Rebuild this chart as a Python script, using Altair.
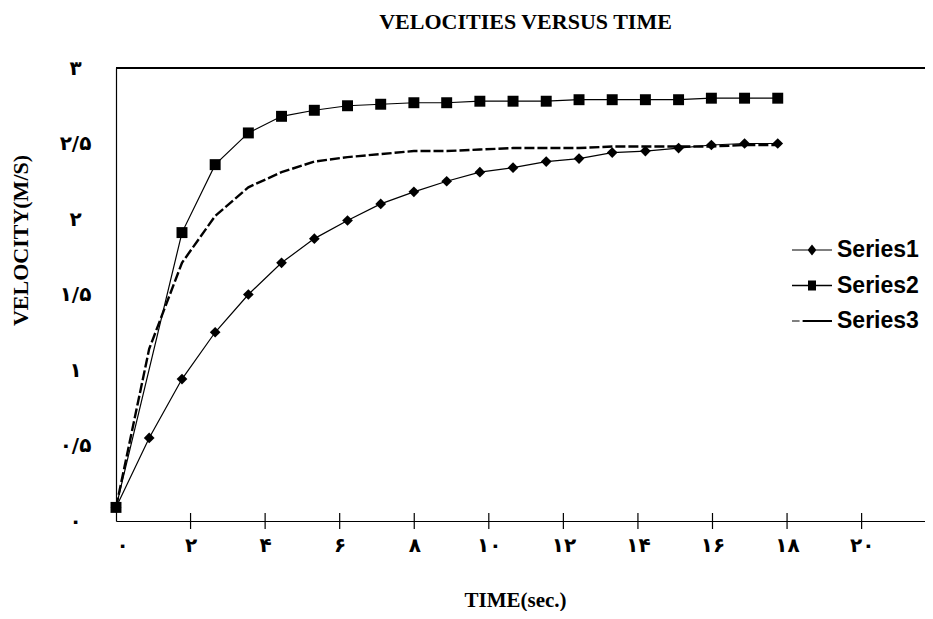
import altair as alt
import pandas as pd

# ---- data ----
time_s = [0.0, 0.89, 1.77, 2.66, 3.55, 4.44, 5.32, 6.21, 7.10, 7.99, 8.87,
          9.76, 10.65, 11.54, 12.42, 13.31, 14.20, 15.09, 15.97, 16.86, 17.75]
series1 = [0.09, 0.55, 0.94, 1.25, 1.50, 1.71, 1.87, 1.99, 2.10, 2.18, 2.25,
           2.31, 2.34, 2.38, 2.40, 2.44, 2.45, 2.47, 2.49, 2.50, 2.50]
series2 = [0.09, None, 1.91, 2.36, 2.57, 2.68, 2.72, 2.75, 2.76, 2.77, 2.77,
           2.78, 2.78, 2.78, 2.79, 2.79, 2.79, 2.79, 2.80, 2.80, 2.80]
series3 = [0.09, 1.14, 1.71, 2.02, 2.21, 2.31, 2.38, 2.41, 2.43, 2.45, 2.45,
           2.46, 2.47, 2.47, 2.47, 2.48, 2.48, 2.48, 2.48, 2.49, 2.49]
series_names = ["Series1", "Series2", "Series3"]

x_ticks = [0, 2, 4, 6, 8, 10, 12, 14, 16, 18, 20]
x_tick_labels = ["۰", "۲", "۴", "۶", "۸", "۱۰", "۱۲", "۱۴", "۱۶", "۱۸", "۲۰"]
y_ticks = [0, 0.5, 1, 1.5, 2, 2.5, 3]
y_tick_labels = ["۰", "۰/۵", "۱", "۱/۵", "۲", "۲/۵", "۳"]

rows = []
for name, vals in zip(series_names, [series1, series2, series3]):
    for t, v in zip(time_s, vals):
        if v is not None:
            rows.append({"t": t, "v": v, "series": name})
df = pd.DataFrame(rows)
tick_df = pd.DataFrame({"t": x_ticks[1:], "v": [0] * (len(x_ticks) - 1)})


def label_expr(values, labels):
    parts = [f"datum.value == {v} ? '{l}'" for v, l in zip(values, labels)]
    return " : ".join(parts) + " : ''"


SERIF = "Liberation Serif"
W, H = 809, 453

x_scale = alt.Scale(domain=[0, 21.7], nice=False, zero=False)
y_scale = alt.Scale(domain=[0, 3], nice=False)

x_axis = alt.Axis(values=x_ticks, labelExpr=label_expr(x_ticks, x_tick_labels),
                  grid=False, ticks=False, tickSize=0, domainColor="black",
                  domainWidth=1.2, labelFont="DejaVu Sans", labelFontSize=20,
                  labelFontWeight="bold", labelColor="black", labelPadding=14,
                  title="TIME(sec.)", titleFont=SERIF, titleFontSize=21,
                  titleFontWeight="bold", titleColor="black", titleX=399,
                  titleY=79, titleBaseline="middle", titleAlign="center")
y_axis = alt.Axis(values=y_ticks, labelExpr=label_expr(y_ticks, y_tick_labels),
                  grid=False, ticks=False, tickSize=0, domainColor="black",
                  domainWidth=1.2, labelFont="DejaVu Sans", labelFontSize=20,
                  labelFontWeight="bold", labelColor="black", labelAlign="center",
                  labelPadding=41, title="VELOCITY(M/S)", titleFont=SERIF,
                  titleFontSize=22, titleFontWeight="bold", titleColor="black",
                  titleX=-96, titleY=172, titleBaseline="middle",
                  titleAlign="center")

base = alt.Chart(df)

solid_lines = base.transform_filter(alt.datum.series != "Series3").mark_line(
    color="black", strokeWidth=1.2
).encode(
    x=alt.X("t:Q", scale=x_scale, axis=x_axis),
    y=alt.Y("v:Q", scale=y_scale, axis=y_axis),
    detail="series:N",
)

dashed_line = base.transform_filter(alt.datum.series == "Series3").mark_line(
    color="black", strokeWidth=2.4, strokeDash=[10, 3]
).encode(x="t:Q", y="v:Q")

points = base.transform_filter(alt.datum.series != "Series3").mark_point(
    filled=True, color="black", opacity=1
).encode(
    x="t:Q",
    y="v:Q",
    shape=alt.Shape("series:N", legend=None,
                    scale=alt.Scale(domain=["Series1", "Series2"],
                                    range=["diamond", "square"])),
    size=alt.Size("series:N", legend=None,
                  scale=alt.Scale(domain=["Series1", "Series2"], range=[115, 120])),
)

ticks = alt.Chart(tick_df).mark_tick(orient="vertical", size=16, thickness=1.2,
                                     color="black", opacity=1).encode(
    x="t:Q", y="v:Q")

top_border = alt.Chart(df).mark_rule(color="black", strokeWidth=1.3).encode(
    y=alt.datum(3))

# legend symbols: thin filled bars stand in for the line, plus the marker
legend_paths = [
    "M-1,-0.03H1V0.03H-1Z M0,-0.27L0.22,0L0,0.27L-0.22,0Z",
    "M-1,-0.035H1V0.035H-1Z M-0.2,-0.25H0.2V0.25H-0.2Z",
    "M-1,-0.03H-0.62V0.03H-1Z M-0.47,-0.05H1V0.05H-0.47Z",
]
legend_layer = base.transform_filter(alt.datum.t < -100).mark_point(
    filled=True, color="black", opacity=1
).encode(
    x="t:Q", y="v:Q",
    shape=alt.Shape("series:N",
                    scale=alt.Scale(domain=series_names, range=legend_paths),
                    legend=alt.Legend(
                        title=None, orient="none", legendX=676, legendY=162,
                        symbolSize=1600, symbolFillColor="black",
                        symbolStrokeWidth=0, symbolOpacity=1,
                        labelFont="Liberation Sans",
                        labelFontSize=23, labelFontWeight="bold",
                        labelColor="black", labelOffset=5, rowPadding=3.5,
                        padding=0)),
)

chart = alt.layer(solid_lines, dashed_line, points, ticks, top_border,
                  legend_layer).resolve_scale(
    shape="independent"
).properties(
    width=W, height=H,
    autosize=alt.AutoSizeParams(type="none"),
    padding={"left": 108, "top": 60, "right": 0, "bottom": 90},
    title=alt.Title("VELOCITIES VERSUS TIME", font=SERIF, fontSize=22,
                    fontWeight="bold", color="black", offset=24,
                    anchor="middle", dx=5),
).configure_view(stroke=None).configure(background="white")

chart.save("out.html", embed_options={"renderer": "svg", "actions": False})
